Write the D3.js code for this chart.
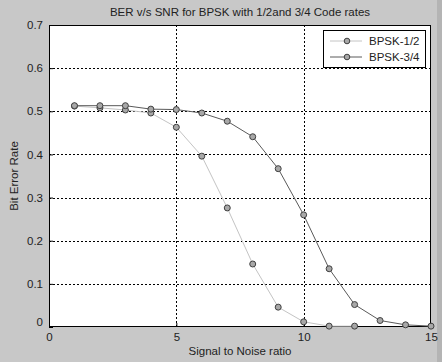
<!DOCTYPE html>
<html><head><meta charset="utf-8">
<script src="https://cdn.jsdelivr.net/npm/d3@7"></script>
<style>
html,body{margin:0;padding:0;background:#c8c8c8;}
svg{display:block;font-family:"Liberation Sans",Arial,sans-serif;}
</style></head>
<body>
<svg id="chart" width="442" height="362"></svg>
<script>
const title = "BER v/s SNR for BPSK with 1/2and 3/4 Code rates";
const xLabel = "Signal to Noise ratio";
const yLabel = "Bit Error Rate";
const snr12 = [1,2,3,4,5,6,7,8,9,10,11,12];
const ber12 = [0.512,0.508,0.503,0.496,0.463,0.396,0.276,0.146,0.046,0.012,0.002,0.002];
const snr34 = [1,2,3,4,5,6,7,8,9,10,11,12,13,14,15];
const ber34 = [0.513,0.513,0.513,0.505,0.504,0.496,0.477,0.441,0.367,0.260,0.135,0.052,0.015,0.005,0.002];
const xTicks = [0,5,10,15];
const yTicks = [0,0.1,0.2,0.3,0.4,0.5,0.6,0.7];
const seriesNames = ["BPSK-1/2","BPSK-3/4"];
const seriesColors = ["#c4c4c4","#5a5a5a"];

const svg = d3.select("#chart");
const L = 49, R = 431, T = 25, B = 327;
const x = d3.scaleLinear().domain([0,15]).range([L,R]);
const y = d3.scaleLinear().domain([0,0.7]).range([B,T]);

svg.append("rect").attr("x",437).attr("y",0).attr("width",5).attr("height",362).attr("fill","#b4b4b4");
svg.append("rect").attr("x",L).attr("y",T).attr("width",R-L).attr("height",B-T).attr("fill","#fff");

const g = svg.append("g");
g.selectAll(".vg").data(xTicks.slice(1,-1)).enter().append("line")
  .attr("x1",d=>Math.round(x(d))+0.5).attr("x2",d=>Math.round(x(d))+0.5)
  .attr("y1",T).attr("y2",B).attr("stroke","#000").attr("stroke-width",1).attr("stroke-dasharray","2,2");
g.selectAll(".hg").data(yTicks.slice(1,-1)).enter().append("line")
  .attr("y1",d=>Math.round(y(d))+0.5).attr("y2",d=>Math.round(y(d))+0.5)
  .attr("x1",L).attr("x2",R).attr("stroke","#000").attr("stroke-width",1).attr("stroke-dasharray","2,2");

const xa = svg.append("g").attr("transform",`translate(0,${B})`)
  .call(d3.axisBottom(x).tickValues(xTicks).tickSize(-4).tickPadding(7).tickFormat(d3.format("d")));
const ya = svg.append("g").attr("transform",`translate(${L},0)`)
  .call(d3.axisLeft(y).tickValues(yTicks).tickSize(-4).tickPadding(6).tickFormat(d=>d===0?"0":d3.format(".1f")(d)));
[xa,ya].forEach(a=>{
  a.select(".domain").remove();
  a.selectAll("text").attr("font-size",11.5).attr("fill","#222").attr("font-family","Liberation Sans, Arial, sans-serif");
  a.selectAll("line").attr("stroke","#000");
});
ya.selectAll("text").filter(d=>d===0).attr("dy","-0.1em");
xa.selectAll("text").attr("dy","0.6em");

svg.append("rect").attr("x",L+0.5).attr("y",T+0.5).attr("width",R-L-1).attr("height",B-T-1)
  .attr("fill","none").attr("stroke","#000").attr("stroke-width",1);

const series = [
  {xs:snr12, ys:ber12},
  {xs:snr34, ys:ber34}
];
const line = d3.line().x(d=>x(d[0])).y(d=>y(d[1]));
series.forEach((s,i)=>{
  const pts = s.xs.map((v,j)=>[v,s.ys[j]]);
  svg.append("path").datum(pts).attr("d",line).attr("fill","none")
    .attr("stroke",seriesColors[i]).attr("stroke-width",1);
  svg.append("g").selectAll("circle").data(pts).enter().append("circle")
    .attr("cx",d=>x(d[0])).attr("cy",d=>y(d[1])).attr("r",3)
    .attr("fill","#a8a8a8").attr("stroke","#404040").attr("stroke-width",1);
});

const lg = svg.append("g");
lg.append("rect").attr("x",323.5).attr("y",30.5).attr("width",102).attr("height",37)
  .attr("fill","#fff").attr("stroke","#000").attr("stroke-width",1);
seriesNames.forEach((n,i)=>{
  const yy = 41 + i*16;
  lg.append("line").attr("x1",330).attr("x2",362).attr("y1",yy).attr("y2",yy)
    .attr("stroke",seriesColors[i]).attr("stroke-width",1);
  lg.append("circle").attr("cx",347).attr("cy",yy).attr("r",2.8)
    .attr("fill","#a8a8a8").attr("stroke","#404040");
  lg.append("text").attr("x",369).attr("y",yy).attr("dy","0.35em").attr("font-size",11.5)
    .attr("fill","#222").text(n);
});

svg.append("text").attr("x",240).attr("y",16).attr("text-anchor","middle")
  .attr("font-size",11.5).attr("fill","#222").text(title);
svg.append("text").attr("x",240).attr("y",355).attr("text-anchor","middle")
  .attr("font-size",11.5).attr("fill","#222").text(xLabel);
svg.append("text").attr("transform","translate(18,176) rotate(-90)").attr("text-anchor","middle")
  .attr("font-size",11.5).attr("fill","#222").text(yLabel);
</script>
</body></html>
